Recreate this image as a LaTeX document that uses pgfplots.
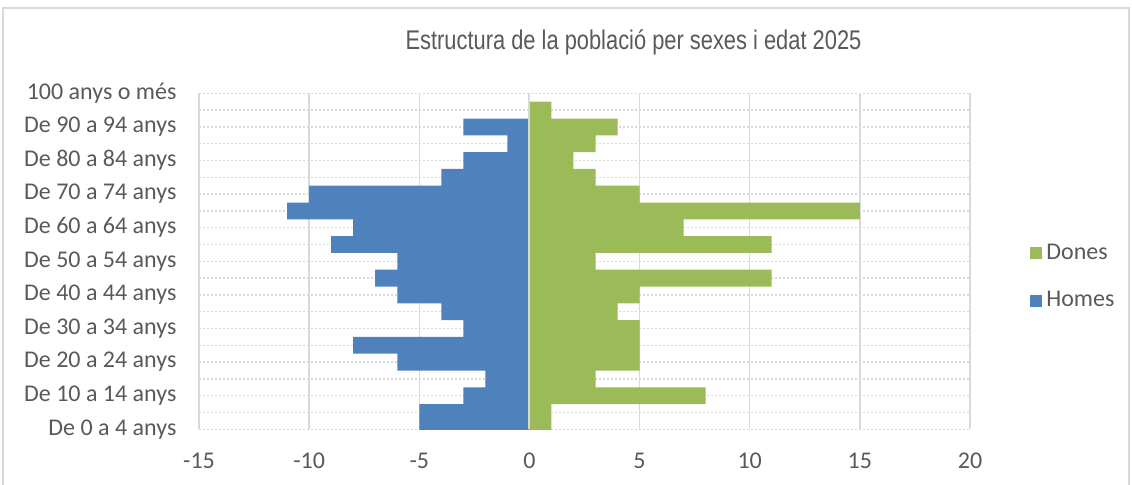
\documentclass[border=0pt]{standalone}
\usepackage{fontspec}
\setmainfont{Carlito}
\newfontfamily\titlefont[FakeStretch=0.81]{Liberation Sans}
\usepackage{pgfplots}
\pgfplotsset{compat=1.18}
\usepackage{pgfplotstable}
\definecolor{homes}{HTML}{4F81BD}
\definecolor{dones}{HTML}{9BBB59}
\definecolor{txt}{HTML}{595959}
\definecolor{grd}{HTML}{D9D9D9}
\pgfplotstableread{
pos homes dones
0 -5 1
1 -5 1
2 -3 8
3 -2 3
4 -6 5
5 -8 5
6 -3 5
7 -4 4
8 -6 5
9 -7 11
10 -6 3
11 -9 11
12 -8 7
13 -11 15
14 -10 5
15 -4 3
16 -3 2
17 -1 3
18 -3 4
19 0 1
20 0 0
}\data
\begin{document}
\begin{tikzpicture}
\useasboundingbox (0,0) rectangle (566pt,242pt);
\draw[grd, line width=0.75pt] (1.5pt,-5pt) rectangle (564.5pt,238pt);
\node[font=\titlefont\fontsize{13.5}{16}\selectfont, text=txt] at (316.75pt,221pt) {Estructura de la població per sexes i edat 2025};
\begin{axis}[
  scale only axis, width=385.5pt, height=168pt,
  at={(99.5pt,27.35pt)}, anchor=south west,
  xmin=-15, xmax=20, ymin=0, ymax=20,
  xtick={-15,-10,...,20},
  ytick={0,...,20},
  yticklabels={De 0 a 4 anys,,De 10 a 14 anys,,De 20 a 24 anys,,De 30 a 34 anys,,De 40 a 44 anys,,De 50 a 54 anys,,De 60 a 64 anys,,De 70 a 74 anys,,De 80 a 84 anys,,De 90 a 94 anys,,100 anys o més},
  axis line style={draw=none},
  tick style={draw=none},
  xmajorgrids, ymajorgrids,
  x grid style={grd, line width=0.75pt},
  y grid style={grd, line width=0.75pt, dash pattern=on 1pt off 1pt},
  /pgf/number format/assume math mode=true,
  tick label style={font=\fontsize{12}{14}\selectfont, text=txt},
  x tick label style={yshift=-8.5pt},
  y tick label style={xshift=-3.5pt},
  xbar, bar width=1, bar shift=0pt,
  legend style={at={(1.07,0.453)}, anchor=west, draw=none, fill=none,
    font=\fontsize{12}{14}\selectfont, text=txt, row sep=10.5pt},
  legend cell align=left,
  legend image code/.code={\fill[#1] (0pt,-3pt) rectangle (6pt,3pt);},
]
\addplot[fill=dones, draw=none] table[x=dones, y=pos] {\data};
\addplot[fill=homes, draw=none] table[x=homes, y=pos] {\data};
\legend{Dones, Homes}
\draw[grd, line width=1pt] (axis cs:0,0) -- (axis cs:0,20);
\end{axis}
\end{tikzpicture}
\end{document}
